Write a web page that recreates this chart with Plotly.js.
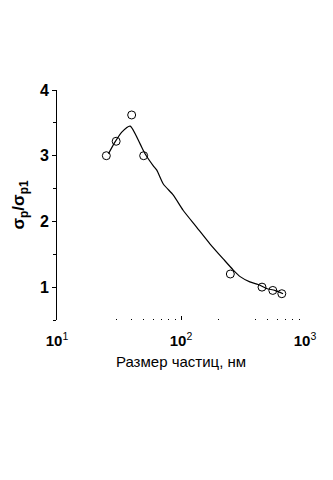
<!DOCTYPE html>
<html>
<head>
<meta charset="utf-8">
<script src="https://cdn.plot.ly/plotly-3.0.1.min.js"></script>
<style>html,body{margin:0;padding:0;background:#fff;}#chart{width:333px;height:480px;}</style>
</head>
<body>
<div id="chart"></div>
<script>
// Measured points
var pointSize = [25, 30, 40, 50, 250, 450, 550, 650];
var pointRatio = [3.0, 3.22, 3.62, 3.0, 1.2, 1.0, 0.95, 0.9];
// Fitted curve
var curveSize = [26, 29.4, 33.3, 38.9, 46.8, 51.3, 59.6, 63.8, 72, 86.7, 104, 134, 171, 219, 264, 300, 359, 419, 490, 571, 665];
var curveRatio = [3.03, 3.21, 3.36, 3.45, 3.18, 3.03, 2.85, 2.78, 2.57, 2.40, 2.17, 1.91, 1.66, 1.43, 1.26, 1.16, 1.08, 1.04, 0.98, 0.95, 0.90];
// Tick labels
var xTickVals = [10, 100, 1000];
var xTickText = ["10<span style='font-weight:normal'><sup>1</sup></span>", "10<span style='font-weight:normal'><sup>2</sup></span>", "10<span style='font-weight:normal'><sup>3</sup></span>"];
var xMinorVals = [30, 40, 50, 60, 70, 80, 90, 200, 400, 500, 600, 700, 800, 900];
var yTickVals = [1, 2, 3, 4];

var traces = [
  {x: curveSize, y: curveRatio, type: 'scatter', mode: 'lines',
   line: {color: '#000', width: 1.2, shape: 'spline', smoothing: 0.6}, hoverinfo: 'skip'},
  {x: pointSize, y: pointRatio, type: 'scatter', mode: 'markers',
   marker: {symbol: 'circle-open', size: 8, color: '#000', line: {width: 1, color: '#000'}}}
];

var layout = {
  width: 333, height: 480,
  margin: {l: 57, r: 28, t: 90, b: 160},
  paper_bgcolor: '#fff', plot_bgcolor: '#fff',
  showlegend: false,
  font: {family: 'Liberation Sans, Arial, sans-serif', color: '#000'},
  xaxis: {
    type: 'log', range: [1, 3],
    showline: false, zeroline: false, showgrid: false,
    tickmode: 'array', tickvals: xTickVals, ticktext: xTickText,
    ticks: 'inside', ticklen: 4, tickwidth: 1, tickcolor: '#000',
    ticklabelstandoff: 10,
    minor: {tickmode: 'array', tickvals: xMinorVals, ticks: 'inside', ticklen: 1, tickwidth: 1, tickcolor: '#000', showgrid: false},
    tickfont: {size: 15, family: 'Liberation Sans, Arial, sans-serif', weight: 'bold'},
    title: {text: 'Размер частиц, нм', font: {size: 15, family: 'Liberation Sans, Arial, sans-serif'}, standoff: 8}
  },
  yaxis: {
    range: [0.5, 4],
    showline: true, linecolor: '#000', linewidth: 1,
    zeroline: false, showgrid: false,
    tickmode: 'array', tickvals: yTickVals,
    ticks: 'outside', ticklen: 4, tickwidth: 1, tickcolor: '#000',
    minor: {dtick: 0.5, ticks: 'outside', ticklen: 3, tickwidth: 1, tickcolor: '#000', showgrid: false},
    tickfont: {size: 16, family: 'Liberation Sans, Arial, sans-serif', weight: 'bold'},
    title: {text: 'σ<sub>p</sub>/σ<sub>p1</sub>', font: {size: 17, family: 'Liberation Sans, Arial, sans-serif', weight: 'bold'}, standoff: 10}
  }
};

Plotly.newPlot('chart', traces, layout, {displayModeBar: false, staticPlot: true});
</script>
</body>
</html>
